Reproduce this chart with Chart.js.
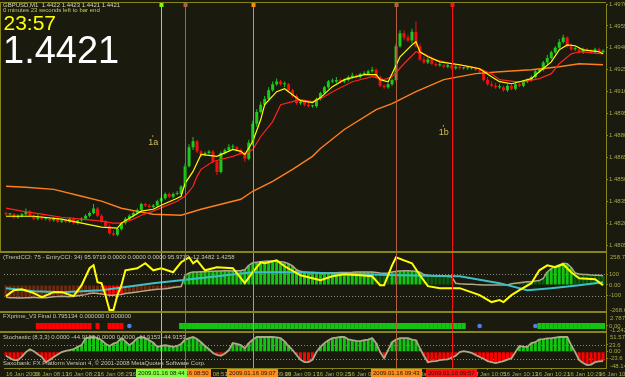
<!DOCTYPE html>
<html>
<head>
<meta charset="utf-8">
<script src="https://cdn.jsdelivr.net/npm/chart.js@4.4.1/dist/chart.umd.min.js"></script>
<style>
html,body{margin:0;padding:0;background:#1a1a0e;overflow:hidden;width:625px;height:377px}
#c{display:block}
</style>
</head>
<body>
<canvas id="c" width="625" height="377"></canvas>
<script>
// ---------- DATA (GBPUSD M1, prices in pips above BASE_PRICE) ----------
const BASE_PRICE = 1.4800;
const opens = [27,26,26,24,25,26,28,25,23,24, 23,23,22,23,21,22,21,23,20,22, 23,25,27,30,25,21,18,13,12,16, 20,23,25,27,29,33,32,31,32,35, 37,40,38,40,40,45,59,72,76,69, 67,68,69,62,55,68,70,72,72,70, 68,64,75,88,96,101,105,111,115,117, 115,115,111,107,102,103,101,100,100,105, 109,113,117,117,118,117,118,120,121,120, 122,122,124,125,120,114,113,115,118,141, 150,147,145,151,141,132,130,132,129,128, 128,127,128,126,127,126,126,126,126,125, 124,118,115,114,113,113,111,114,112,115, 114,117,118,120,124,125,130,133,137,140, 144,147,141,139,139,137,139,138,137,139,137];
const highs = [28,27,27,26,27,30,29,26,26,25, 24,24,24,24,23,23,24,24,22,24, 26,28,33,31,26,22,19,15,17,21, 24,26,28,30,34,34,33,33,36,38, 41,41,41,42,46,61,74,79,77,70, 69,70,70,63,69,71,74,74,73,71, 69,77,90,98,103,107,113,117,119,118, 117,116,112,108,104,104,103,101,106,110, 114,118,119,120,119,119,121,123,122,123, 124,125,127,126,121,115,116,119,143,152, 152,149,153,158,143,134,133,133,130,130, 129,129,129,128,128,127,127,127,127,126, 125,120,117,116,115,114,115,115,116,116, 118,119,121,125,126,131,135,138,141,146, 149,148,143,141,140,140,140,139,140,140,139];
const lows = [25,25,23,23,24,25,24,22,22,22, 22,21,21,20,20,20,20,19,19,21, 22,24,26,24,20,17,12,11,11,15, 19,22,24,26,28,31,30,30,31,34, 36,37,37,39,39,44,58,70,68,65, 66,67,61,53,54,67,69,70,69,67, 62,63,73,86,95,100,104,110,114,114, 113,110,106,101,101,100,99,99,99,104, 108,112,116,116,116,116,117,119,119,119, 121,121,123,119,113,112,112,114,117,140, 145,144,143,140,131,129,129,128,127,127, 126,126,125,125,125,125,125,125,124,123, 117,114,113,112,112,110,110,111,111,113, 113,116,117,119,123,124,129,132,136,139, 143,140,138,138,136,136,137,136,136,136,136];
const closes = [26,26,24,25,26,28,25,23,24,23, 23,22,23,21,22,21,23,20,22,23, 25,27,30,25,21,18,13,12,16,20, 23,25,27,29,33,32,31,32,35,37, 40,38,40,40,45,59,72,76,69,67, 68,69,62,55,68,70,72,72,70,68, 64,75,88,96,101,105,111,115,117,115, 115,111,107,102,103,101,100,100,105,109, 113,117,117,118,117,118,120,121,120,122, 122,124,125,120,114,113,115,118,141,150, 147,145,151,141,132,130,132,129,128,128, 127,128,126,127,126,126,126,126,125,124, 118,115,114,113,113,111,114,112,115,114, 117,118,120,124,125,130,133,137,140,144, 147,141,139,139,137,139,138,137,139,137,138];

// moving averages: [bar index, pips]
const maFast = [[0,24.7],[7,24.7],[14,22.7],[24,17.2],[28,16.5],[29,20],[34,28.2],[37,29.5],[39,32.2],[43,37],[44,38.4],[45,47.2],[47,55.4],[49,67],[53,65.7],[57,70.4],[59,69.1],[60,67],[62,75.9],[64,90.9],[65,101.1],[68,110],[70,112],[72,107.9],[74,103.8],[77,102.5],[79,105.9],[82,113.4],[85,118.2],[90,121.6],[93,121.6],[94,118.2],[96,116.8],[97,122.3],[99,133.9],[102,142],[103,144.1],[104,137.3],[106,133.9],[109,130.4],[114,128.4],[119,125.7],[122,120.2],[124,116.8],[127,115.4],[129,116.8],[132,118.9],[134,123.6],[137,130.4],[139,138.6],[141,142],[143,141.4],[145,138.6],[149,137.3],[150,135.9]];
const maMid = [[0,30.2],[4,28.2],[9,26.1],[14,24],[19,22.7],[24,21.4],[27,20],[29,20],[32,22.7],[34,25.4],[37,28.2],[40,31.6],[43,35],[45,38.4],[47,45.2],[48,52],[49,56.8],[52,62.2],[57,65.7],[59,67.7],[60,67],[62,70.4],[64,79.3],[67,89.5],[69,101.1],[72,103.2],[74,104.5],[77,103.2],[79,105.2],[83,111.3],[87,116.8],[92,120.2],[95,118.2],[97,120.2],[100,129.1],[103,137.3],[105,135.9],[108,131.8],[112,129.1],[117,127],[119,125.7],[122,122.3],[124,118.2],[128,116.8],[130,116.8],[134,118.9],[137,122.3],[139,129.1],[142,135.9],[144,137.3],[150,135.9]];
const maSlow = [[0,45.2],[5,44.5],[12,43.1],[19,38.4],[24,35],[29,30.2],[34,27.5],[37,26.1],[44,25.4],[49,29.5],[54,32.9],[59,36.3],[62,41.8],[67,48.6],[72,56.8],[77,65.7],[79,71.1],[85,84.1],[93,97.7],[97,101.8],[103,110],[110,118.2],[118,122.3],[124,123.6],[132,125],[139,127],[144,129.1],[150,128.4]];
const priceTicks = [5,20,35,50,65,80,95,110,125,140,155,170];

// TrendCCI panel
const cciTrend = [-115,-118,-120,-122,-122,-120,-118,-115,-118,-120, -118,-115,-110,-108,-105,-108,-110,-105,-100,-95, -90,-80,-75,-80,-85,-90,-95,-95,-92,-88, -80,-75,-70,-65,-60,-55,-50,-45,-40,-38, -35,-30,-25,-20,-15,85,110,118,120,122, 122,125,125,128,128,130,130,128,130,132, 140,180,205,210,215,218,220,220,218,215, 210,195,175,140,125,118,115,115,112,110, 110,110,112,112,115,115,115,116,118,118, 118,120,118,115,110,108,110,120,125,128, 130,130,128,125,118,95,90,85,82,80, 80,78,75,15,10,8,5,5,3,2, 0,0,0,0,0,0,0,10,15,20, 25,28,30,35,40,60,120,150,170,185, 200,195,160,110,100,95,95,92,90,90,85];
const cciTrendRuns = [['b',25],['r',5],['b',15],['G',48],['g',4],['G',8],['g',31],['G',7],['g',8]];
const cciFast = [[0,-104],[2,-49],[4,-40],[7,-76],[9,-113],[12,-67],[14,-67],[17,-104],[19,-3],[21,154],[22,181],[23,25],[24,16],[25,-95],[26,-233],[27,-233],[28,-95],[29,-3],[30,135],[33,154],[35,200],[37,135],[39,154],[42,117],[44,209],[46,255],[47,200],[48,227],[50,135],[53,163],[57,154],[59,62],[60,16],[62,117],[64,209],[65,200],[68,227],[70,172],[74,89],[77,62],[79,43],[82,80],[85,98],[89,89],[92,80],[94,-3],[95,-3],[97,181],[98,255],[100,227],[102,200],[104,89],[106,-12],[109,-30],[114,-30],[119,-95],[122,-159],[124,-141],[125,-159],[127,-95],[129,-49],[132,16],[134,135],[136,181],[138,163],[140,191],[142,117],[144,62],[148,52],[150,-3]];
const cciSlow = [[0,-30],[7,-58],[14,-67],[24,-49],[37,16],[44,43],[62,117],[74,117],[89,98],[99,89],[114,80],[124,16],[131,-49],[137,-30],[144,-3],[150,25]];
const cciLevels = [100,-100];

// FXprime signal: R = sell, G = buy, o = neutral dot, - = nothing
const fxRuns = [['-',8],['R',14],['-',1],['R',1],['-',2],['R',4],['-',1],['o',1],['-',12],['G',72],['-',3],['o',1],['-',13],['o',1],['G',17]];

// Stochastic (8,3,3) centred on 50
const stoch = [-14,-22,-29,-29,-17,-1,9,2,-9,-18, -36,-28,-18,-9,-1,3,6,9,17,23, 47,50,51,47,40,28,20,28,33,47, 36,23,33,47,51,47,40,31,17,20, 23,20,17,20,27,42,47,51,44,33, 20,9,-4,-11,-14,-6,6,30,27,23, 12,30,42,51,51,51,51,51,50,47, 36,20,6,-11,-28,-36,-36,-28,-1,17, 30,40,47,49,51,51,43,40,38,37, 40,42,47,30,-1,-22,6,33,42,47, 47,47,42,40,12,-14,-36,-33,-32,-29, -27,-26,-20,-14,-1,2,0,-4,-11,-18, -24,-32,-36,-39,-36,-32,-27,-22,-1,20, 18,17,30,33,43,44,46,47,49,51, 51,51,23,-1,-29,-39,-46,-44,-36,-33,-32];
const stochLevels = [23.6,-23.6];

// time axis
const timeTickBars = [0,7,15,23,31,39,47,55,63,70,78,86,94,102,110,117,125,133,141,149];
const timeTickLabels = ['16 Jan 2009','16 Jan 08:13','16 Jan 08:21','16 Jan 08:29','16 Jan 08:37','16 Jan 08:45','16 Jan 08:53','16 Jan 09:01','16 Jan 09:09','16 Jan 09:17','16 Jan 09:25','16 Jan 09:33','16 Jan 09:41','16 Jan 09:49','16 Jan 09:57','16 Jan 10:05','16 Jan 10:13','16 Jan 10:21','16 Jan 10:29','16 Jan 10:37'];

// vertical line objects
const markerBars = [45,39,62,98,112];
const markerTimes = ['2009.01.16 08:50','2009.01.16 08:44','2009.01.16 09:07','2009.01.16 09:43','2009.01.16 09:57'];
const noteLabels = ['1a','1b'];
const noteBars = [37,110];
const notePips = [76,83];

// ---------- STYLE ----------
const C = {
  bg:'#1a1a0e', frame:'#85851c', axisText:'#a8a848', up:'#1ec81e', down:'#ee1111',
  maFast:'#ffff00', maMid:'#ff2222', maSlow:'#ff7f1e', cciFast:'#ffff00', cciSlow:'#3cc0c8',
  outline:'#b0a88c', G:'#13c413', g:'#0d5c0d', b:'#6e2a10', r:'#ff0000', level:'#8c8c7c',
  dot:'#4f7fe8'
};
const markerColors = ['#b0604a','#7cfc00','#ff8c00','#b5603c','#ff1010'];
const markerBoxColors = ['#ff8c1a','#80ff40','#ff8c1a','#ff8c1a','#ff1010'];
const FONT = '"Liberation Sans", Arial, sans-serif';

function expandRuns(runs){ const out=[]; runs.forEach(([c,n])=>{ for(let k=0;k<n;k++) out.push(c); }); return out; }
const cciState = expandRuns(cciTrendRuns);
const fxState = expandRuns(fxRuns);

const bars = closes.map((_, i) => i);
const candleCol = ctx => ctx.dataIndex === undefined ? C.up : (closes[ctx.dataIndex] >= opens[ctx.dataIndex] ? C.up : C.down);
const pts = arr => arr.map(([x, y]) => ({x, y}));

const smallTick = (color) => ({ color, font:{family:FONT, size:6}, padding:1, autoSkip:false, maxRotation:0 });
function fixedTicks(values){ return s => { s.ticks = values.map(v => ({value:v})); }; }

const datasets = [
  {type:'line', data:pts(maFast), yAxisID:'yMain', borderColor:C.maFast, borderWidth:1.2, pointRadius:0, order:1},
  {type:'line', data:pts(maMid), yAxisID:'yMain', borderColor:C.maMid, borderWidth:1.2, pointRadius:0, order:1},
  {type:'line', data:pts(maSlow), yAxisID:'yMain', borderColor:C.maSlow, borderWidth:1.4, pointRadius:0, order:1},
  {type:'bar', data:bars.map(i => ({x:i, y:[opens[i], closes[i]]})), yAxisID:'yMain', backgroundColor:candleCol, barThickness:3, minBarLength:1, grouped:false, inflateAmount:0, borderWidth:0, order:2},
  {type:'bar', data:bars.map(i => ({x:i, y:[lows[i], highs[i]]})), yAxisID:'yMain', backgroundColor:candleCol, barThickness:1, minBarLength:1, grouped:false, inflateAmount:0, borderWidth:0, order:3},
  {type:'line', data:pts(cciFast), yAxisID:'yCci', borderColor:C.cciFast, borderWidth:2, pointRadius:0, order:4},
  {type:'line', data:pts(cciSlow), yAxisID:'yCci', borderColor:C.cciSlow, borderWidth:2, pointRadius:0, order:5},
  {type:'line', data:bars.map(i => ({x:i, y:cciTrend[i]})), yAxisID:'yCci', borderColor:C.outline, borderWidth:1.5, pointRadius:0, order:6},
  {type:'bar', data:bars.map(i => ({x:i, y:cciTrend[i]})), yAxisID:'yCci', backgroundColor:ctx => C[cciState[ctx.dataIndex]] || C.G, barThickness:3, grouped:false, inflateAmount:0, borderWidth:0, order:7},
  {type:'bar', data:bars.filter(i => fxState[i]==='R' || fxState[i]==='G').map(i => ({x:i, y:[-0.62, 0.62]})), yAxisID:'yFx', backgroundColor:ctx => { const d = ctx.raw; return d && fxState[d.x]==='R' ? C.r : C.G; }, barThickness:4, grouped:false, inflateAmount:0, borderWidth:0, order:8},
  {type:'line', data:bars.filter(i => fxState[i]==='o').map(i => ({x:i, y:0})), yAxisID:'yFx', showLine:false, pointRadius:2.3, pointBackgroundColor:C.dot, pointBorderWidth:0, order:8},
  {type:'line', data:bars.map(i => ({x:i, y:stoch[i]})), yAxisID:'ySto', borderColor:C.outline, borderWidth:1.8, pointRadius:0, order:9},
  {type:'bar', data:bars.map(i => ({x:i, y:stoch[i]})), yAxisID:'ySto', backgroundColor:ctx => { const d = ctx.raw; return d && d.y < 0 ? C.r : C.G; }, barThickness:3, grouped:false, inflateAmount:0, borderWidth:0, order:10}
];

const yCommon = (weight) => ({
  position:'right', stack:'panes', stackWeight:weight, offset:false,
  grid:{drawOnChartArea:false, drawTicks:true, tickLength:2, color:C.frame},
  border:{color:C.frame, width:1},
  afterFit: s => { s.width = 19; s.paddingTop = 0; s.paddingBottom = 0; }
});

const mt4 = {
  id:'mt4',
  beforeDraw(chart){
    const {ctx, width, height} = chart;
    ctx.save(); ctx.fillStyle = C.bg; ctx.fillRect(0, 0, width, height); ctx.restore();
  },
  beforeDatasetsDraw(chart){
    const {ctx, chartArea:a, scales:s} = chart;
    ctx.save();
    ctx.strokeStyle = C.level; ctx.lineWidth = 1; ctx.setLineDash([1,2]);
    [[s.yCci, cciLevels], [s.ySto, stochLevels]].forEach(([sc, lv]) => lv.forEach(v => {
      const y = Math.round(sc.getPixelForValue(v)) + 0.5;
      ctx.beginPath(); ctx.moveTo(a.left, y); ctx.lineTo(a.right, y); ctx.stroke();
    }));
    ctx.setLineDash([]);
    ctx.font = '6px ' + FONT; ctx.fillStyle = '#c8c8b0'; ctx.textBaseline = 'alphabetic';
    ctx.fillText('Saxobank: FX Platform Version 4, \u00a9 2001-2008 MetaQuotes Software Corp.', 3, s.ySto.bottom - 3);
    ctx.restore();
  },
  afterDatasetsDraw(chart){
    const {ctx, chartArea:a, scales:s} = chart;
    ctx.save();
    markerBars.forEach((b, k) => {
      const x = Math.round(s.x.getPixelForValue(b)) + 0.5;
      ctx.strokeStyle = markerColors[k]; ctx.lineWidth = 1;
      ctx.beginPath(); ctx.moveTo(x, a.top); ctx.lineTo(x, a.bottom); ctx.stroke();
      ctx.fillStyle = markerColors[k]; ctx.fillRect(x - 2, a.top - 1, 4, 4);
    });
    ctx.fillStyle = '#d6bf5a'; ctx.font = '9px ' + FONT; ctx.textBaseline = 'alphabetic';
    noteLabels.forEach((t, k) => {
      const x = s.x.getPixelForValue(noteBars[k]); const y = s.yMain.getPixelForValue(notePips[k]);
      ctx.fillText(t, x - 5, y + 4);
      ctx.fillRect(x - 1, y - 6, 1, 1.5);
    });
    ctx.restore();
  },
  afterDraw(chart){
    const {ctx, chartArea:a, scales:s} = chart;
    ctx.save();
    ctx.fillStyle = C.frame;
    ctx.fillRect(0, a.top - 2, a.right, 1);
    ctx.fillRect(0, a.top - 2, 1, s.yMain.bottom - a.top + 2);
    [s.yCci.top, s.yFx.top, s.ySto.top].forEach(y => ctx.fillRect(0, Math.round(y) - 1, a.right, 2));
    ctx.textBaseline = 'alphabetic';
    ctx.font = '6px ' + FONT;
    ctx.fillStyle = '#d8d8c0'; ctx.fillText('GBPUSD,M1  1.4422 1.4423 1.4421 1.4421', 3, 7);
    ctx.fillStyle = '#c8c850'; ctx.fillText('0 minutes 23 seconds left to bar end', 3, 12);
    ctx.font = '21px ' + FONT; ctx.fillStyle = '#ffff00'; ctx.fillText('23:57', 3.5, 29.5);
    ctx.font = '38px ' + FONT; ctx.fillStyle = '#ffffff'; ctx.fillText('1.4421', 3, 63);
    ctx.font = '6px ' + FONT; ctx.fillStyle = '#c8c8b0';
    ctx.fillText('(TrendCCI: 75 - EntryCCI: 34) 95.9719 0.0000 0.0000 0.0000 95.9719 -12.3482 1.4258', 3, s.yCci.top + 7);
    ctx.fillText('FXprime_V3 Final 0.795134 0.000000 0.000000', 3, s.yFx.top + 6);
    ctx.fillText('Stochastic (8,3,3) 0.0000 -44.9153 0.0000 0.0000 -44.9153 -44.9153', 3, s.ySto.top + 7);
    ctx.fillStyle = C.axisText;
    const rx = a.right + 4;
    ctx.fillText('258.773', rx, s.yCci.top + 7);
    ctx.fillText('-268.613', rx, s.yCci.bottom);
    ctx.fillText('2.787594', rx, s.yFx.top + 8);
    ctx.fillText('-1.242459', rx, s.yFx.bottom);
    ctx.fillText('51.57419', rx, s.ySto.top + 7);
    ctx.fillText('-48.1499', rx, s.ySto.bottom);
    ctx.textBaseline = 'middle';
    markerBars.forEach((b, k) => {
      const x = s.x.getPixelForValue(b);
      const w = ctx.measureText(markerTimes[k]).width + 4;
      ctx.fillStyle = markerBoxColors[k]; ctx.fillRect(Math.round(x - w/2), a.bottom + 1, Math.round(w), 8);
      ctx.fillStyle = '#1a1a0e'; ctx.fillText(markerTimes[k], Math.round(x - w/2) + 2, a.bottom + 5.5);
    });
    ctx.restore();
  }
};

new Chart(document.getElementById('c'), {
  type:'bar',
  data:{datasets},
  plugins:[mt4],
  options:{
    responsive:false, animation:false, events:[],
    layout:{padding:{left:1, top:3, right:0, bottom:0}},
    plugins:{legend:{display:false}, tooltip:{enabled:false}},
    elements:{line:{tension:0}},
    scales:{
      x:{type:'linear', min:-0.5, max:150.75, position:'bottom', offset:false,
         grid:{drawOnChartArea:false, drawTicks:true, tickLength:2, color:C.frame},
         border:{color:C.frame},
         ticks:Object.assign(smallTick(C.axisText), {align:'start', callback:(v, i) => timeTickLabels[i]}),
         afterBuildTicks:fixedTicks(timeTickBars),
         afterFit: s => { s.height = 9; s.paddingLeft = 0; s.paddingRight = 0; }},
      yMain:Object.assign(yCommon(249), {min:0, max:170,
         ticks:Object.assign(smallTick(C.axisText), {callback:v => (BASE_PRICE + v/10000).toFixed(4)}),
         afterBuildTicks:fixedTicks(priceTicks)}),
      yCci:Object.assign(yCommon(60), {min:-252, max:301,
         ticks:Object.assign(smallTick(C.axisText), {callback:v => v === 0 ? '0.00' : String(v)}),
         afterBuildTicks:fixedTicks([100,0,-100])}),
      yFx:Object.assign(yCommon(20), {min:-1.242459, max:2.787594,
         ticks:Object.assign(smallTick(C.axisText), {callback:() => '0.00'}),
         afterBuildTicks:fixedTicks([0])}),
      ySto:Object.assign(yCommon(36), {min:-56, max:68,
         ticks:Object.assign(smallTick(C.axisText), {callback:v => v === 0 ? '0.00' : String(v)}),
         afterBuildTicks:fixedTicks([23.6,0,-23.6])})
    }
  }
});
</script>
</body>
</html>
